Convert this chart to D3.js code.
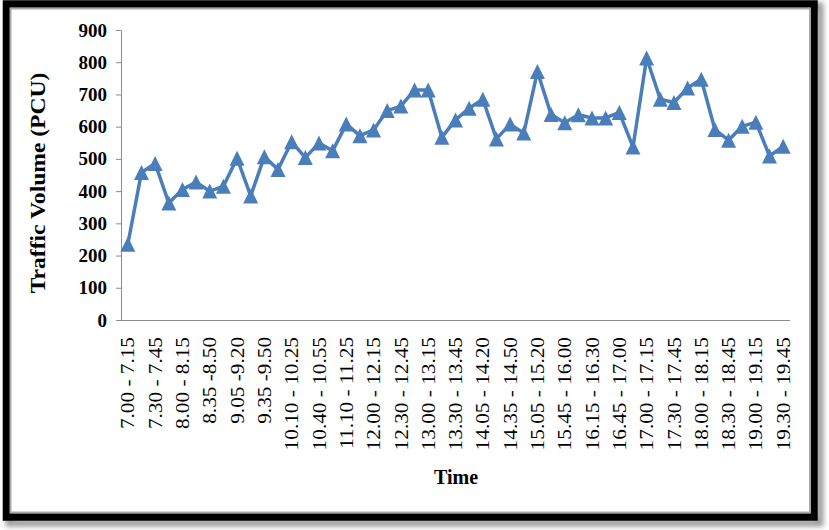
<!DOCTYPE html>
<html>
<head>
<meta charset="utf-8">
<script src="https://cdn.jsdelivr.net/npm/d3@7"></script>
<style>
  html, body { margin: 0; padding: 0; background: #ffffff; }
  svg { display: block; }
</style>
</head>
<body>
<svg id="chart" width="829" height="530"></svg>
<script>
// ---- data ----
const categories = [
  "7.00 - 7.15", "7.15 - 7.30", "7.30 - 7.45", "7.45 - 8.00", "8.00 - 8.15",
  "8.20 - 8.35", "8.35 -8.50", "8.50 - 9.05", "9.05 -9.20", "9.20 - 9.35",
  "9.35 -9.50", "9.50 - 10.05", "10.10 - 10.25", "10.25 - 10.40", "10.40 - 10.55",
  "10.55 - 11.10", "11.10 - 11.25", "11.40 - 11.55", "12.00 - 12.15", "12.15 - 12.30",
  "12.30 - 12.45", "12.45 - 13.00", "13.00 - 13.15", "13.15 - 13.30", "13.30 - 13.45",
  "13.45 - 14.00", "14.05 - 14.20", "14.20 - 14.35", "14.35 - 14.50", "14.50 - 15.05",
  "15.05 - 15.20", "15.30 - 15.45", "15.45 - 16.00", "16.00 - 16.15", "16.15 - 16.30",
  "16.30 - 16.45", "16.45 - 17.00", "16.55 - 17.10", "17.00 - 17.15", "17.15 - 17.30",
  "17.30 - 17.45", "17.45 - 18.00", "18.00 - 18.15", "18.15 - 18.30", "18.30 - 18.45",
  "18.45 - 19.00", "19.00 - 19.15", "19.15 - 19.30", "19.30 - 19.45"
];
const trafficVolume = [
  235, 458, 486, 363, 405, 428, 400, 415, 502, 385,
  507, 467, 553, 504, 549, 525, 608, 572, 590, 650,
  664, 714, 714, 567, 621, 657, 685, 562, 608, 580,
  771, 638, 612, 637, 627, 627, 644, 537, 813, 685,
  675, 720, 747, 591, 558, 601, 614, 509, 539
];
const xTickLabels = [
  "7.00 - 7.15", "7.30 - 7.45", "8.00 - 8.15", "8.35 -8.50", "9.05 -9.20",
  "9.35 -9.50", "10.10 - 10.25", "10.40 - 10.55", "11.10 - 11.25", "12.00 - 12.15",
  "12.30 - 12.45", "13.00 - 13.15", "13.30 - 13.45", "14.05 - 14.20", "14.35 - 14.50",
  "15.05 - 15.20", "15.45 - 16.00", "16.15 - 16.30", "16.45 - 17.00", "17.00 - 17.15",
  "17.30 - 17.45", "18.00 - 18.15", "18.30 - 18.45", "19.00 - 19.15", "19.30 - 19.45"
];
const yTicks = [0, 100, 200, 300, 400, 500, 600, 700, 800, 900];
const yTitle = "Traffic Volume (PCU)";
const xTitle = "Time";

// ---- layout ----
const svg = d3.select("#chart");
const plot = { left: 121, right: 790, top: 30, bottom: 320 };
const serif = "'Liberation Serif', 'Times New Roman', serif";
const blue = "#4A7EBB";
const axisGray = "#8C8C8C";
const stretch = 1.15;

// frame with shadow
const defs = svg.append("defs");
const f = defs.append("filter").attr("id", "shadow").attr("x", "-5%").attr("y", "-5%").attr("width", "115%").attr("height", "115%");
f.append("feGaussianBlur").attr("stdDeviation", 2.5);
svg.append("rect")
  .attr("x", 9).attr("y", 6).attr("width", 811).attr("height", 517)
  .attr("fill", "none").attr("stroke", "#9a9a9a").attr("stroke-width", 7)
  .attr("filter", "url(#shadow)");
svg.append("rect")
  .attr("x", 6.5).attr("y", 4).attr("width", 807.5).attr("height", 513)
  .attr("fill", "#ffffff").attr("stroke", "#000000").attr("stroke-width", 7.5);
svg.append("rect")
  .attr("x", 10.5).attr("y", 8.5).attr("width", 799.5).attr("height", 504)
  .attr("fill", "none").attr("stroke", "#a8a8a8").attr("stroke-width", 2);

// scales
const x = d3.scalePoint().domain(categories).range([plot.left, plot.right]).padding(0.5);
const y = d3.scaleLinear().domain([0, 900]).range([plot.bottom, plot.top]);

// y axis
const yAxis = svg.append("g")
  .attr("transform", `translate(${plot.left},0)`)
  .call(d3.axisLeft(y).tickValues(yTicks).tickSize(5).tickPadding(9).tickSizeOuter(0));
yAxis.select(".domain").attr("stroke", axisGray).attr("stroke-width", 1);
yAxis.selectAll(".tick line").attr("stroke", axisGray);
yAxis.selectAll(".tick text")
  .attr("font-family", serif).attr("font-weight", "bold").attr("font-size", 19)
  .attr("fill", "#000");

// x axis
const xAxis = svg.append("g")
  .attr("transform", `translate(0,${plot.bottom})`)
  .call(d3.axisBottom(x).tickValues(xTickLabels).tickSize(0).tickSizeOuter(0));
xAxis.select(".domain").attr("stroke", axisGray).attr("stroke-width", 1)
  .attr("d", `M${plot.left},0.5H${plot.right}`);
xAxis.selectAll(".tick text")
  .attr("font-family", serif).attr("font-size", 18.5).attr("fill", "#000")
  .attr("text-anchor", "end")
  .attr("transform", `rotate(-90) scale(${stretch},1)`)
  .attr("x", -17 / stretch).attr("y", 0).attr("dy", "0.33em");

// line
const line = d3.line()
  .x((d, i) => x(categories[i]))
  .y(d => y(d));
svg.append("path")
  .datum(trafficVolume)
  .attr("fill", "none").attr("stroke", blue).attr("stroke-width", 3.5)
  .attr("stroke-linejoin", "round")
  .attr("d", line);

// triangle markers
const tw = 15, th = 15;
svg.append("g").selectAll("path")
  .data(trafficVolume)
  .join("path")
  .attr("transform", (d, i) => `translate(${x(categories[i])},${y(d)})`)
  .attr("d", `M0,${-th / 2}L${tw / 2},${th / 2}L${-tw / 2},${th / 2}Z`)
  .attr("fill", blue);

// axis titles
svg.append("text")
  .attr("transform", `translate(45,${(plot.top + plot.bottom) / 2 + 8}) rotate(-90) scale(${stretch},1)`)
  .attr("text-anchor", "middle")
  .attr("font-family", serif).attr("font-weight", "bold").attr("font-size", 20.5)
  .text(yTitle);

svg.append("text")
  .attr("x", 456).attr("y", 484)
  .attr("text-anchor", "middle")
  .attr("font-family", serif).attr("font-weight", "bold").attr("font-size", 20)
  .text(xTitle);
</script>
</body>
</html>
